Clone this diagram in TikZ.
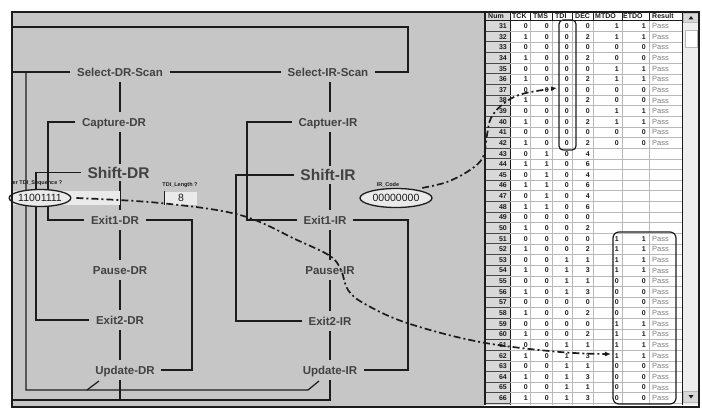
\documentclass[tikz,border=0pt]{standalone}
\usepackage{fontspec}
\setmainfont{Liberation Sans}
\usetikzlibrary{arrows.meta,shapes.geometric}
\definecolor{panel}{RGB}{198,198,198}
\definecolor{ink}{RGB}{28,28,28}
\definecolor{lbl}{RGB}{66,66,66}
\definecolor{field}{RGB}{234,234,234}
\definecolor{gridc}{RGB}{185,185,185}
\definecolor{btn}{RGB}{216,216,216}
\definecolor{passc}{RGB}{125,125,125}
\definecolor{track}{RGB}{238,238,238}
\begin{document}
\begin{tikzpicture}[x=1pt,y=-1pt,
  wire/.style={draw=ink, line width=1.25pt},
  state/.style={font=\fontsize{11.5}{12}\selectfont\bfseries, text=lbl, inner xsep=6.5pt, inner ysep=0pt, minimum height=20pt, text height=8.5pt, text depth=0pt},
  bigstate/.style={state, font=\fontsize{15.5}{16}\selectfont\bfseries, minimum height=17pt, text height=11.2pt},
  ddash/.style={draw=ink, line width=1.7pt, dash pattern=on 7pt off 3pt on 2pt off 3pt},
  tinylbl/.style={font=\fontsize{5.5}{6}\selectfont\bfseries, text=ink, inner sep=0pt},
  oval/.style={ellipse, draw=ink, line width=1.3pt, fill=field, inner sep=0pt, font=\fontsize{10.5}{11}\selectfont, text=ink},
  tcell/.style={font=\fontsize{7}{7}\selectfont\bfseries, text=ink, inner sep=0pt, text height=5pt, text depth=0pt, anchor=east},
  tpass/.style={font=\fontsize{7.5}{7.5}\selectfont, text=passc, inner sep=0pt, text height=5.2pt, text depth=0pt, anchor=west},
  hdr/.style={font=\fontsize{7}{7}\selectfont\bfseries, text=ink, inner sep=0pt, text height=5pt, text depth=0pt, anchor=west}
]
\useasboundingbox (0,0) rectangle (702,412);
\fill[white] (0,0) rectangle (702,412);
\fill[panel] (12,12) rectangle (484,407);
\fill[white] (484,12) rectangle (699,407);

% ---------- state labels ----------
\node[state] (sdr) at (120,72) {Select-DR-Scan};
\node[state] (cdr) at (114,122) {Capture-DR};
\node[bigstate] (shdr) at (118.5,172.5) {Shift-DR};
\node[state] (e1dr) at (115,220) {Exit1-DR};
\node[state] (pdr) at (120,270) {Pause-DR};
\node[state] (e2dr) at (120,320) {Exit2-DR};
\node[state] (udr) at (125,370) {Update-DR};
\node[state] (sir) at (328,72) {Select-IR-Scan};
\node[state] (cir) at (328,122) {Captuer-IR};
\node[bigstate] (shir) at (328,175) {Shift-IR};
\node[state] (e1ir) at (325,220) {Exit1-IR};
\node[state] (pir) at (330,270) {Pause-IR};
\node[state] (e2ir) at (330,321) {Exit2-IR};
\node[state] (uir) at (330,370) {Update-IR};

% ---------- named points ----------
\coordinate (colDR) at (120,0);
\coordinate (colIR) at (330,0);
\coordinate (frL) at (12,0);
\coordinate (topL) at (12,27);
\coordinate (topR) at (408,27);
\coordinate (botY) at (0,400);
\coordinate (lpA) at (26,72);
\coordinate (lpB) at (26,390);
\coordinate (lpC) at (308,390);
\coordinate (lpD) at (319,381);
\coordinate (brA) at (87,390);
\coordinate (brB) at (99,381);
\coordinate (x36) at (36,0);
\coordinate (x48) at (48,0);
\coordinate (x192) at (192,0);
\coordinate (x236) at (236,0);
\coordinate (x247) at (247,0);
\coordinate (x408) at (408,0);

% ---------- connectors ----------
\draw[wire] (sir.east) -| (topR) -- (topL);
\draw[wire] (sdr.west) -- (frL |- sdr.west);
\draw[wire] (sdr.east) -- (sir.west);
\draw[wire] (lpA) -- (lpB) -- (lpC) -- (lpD);
\draw[wire] (brA) -- (brB);
\foreach \a/\b in {sdr/cdr,cdr/shdr,shdr/e1dr,e1dr/pdr,pdr/e2dr,e2dr/udr}
  \draw[wire] (colDR |- \a.south) -- (colDR |- \b.north);
\foreach \a/\b in {sir/cir,cir/shir,shir/e1ir,e1ir/pir,pir/e2ir,e2ir/uir}
  \draw[wire] (colIR |- \a.south) -- (colIR |- \b.north);
\draw[wire] (colDR |- udr.south) -- (colDR |- botY);
\draw[wire] (colIR |- uir.south) -- (colIR |- botY) -- (frL |- botY);
\draw[wire] (cdr.west) -| (x48 |- e1dr.west) -- (e1dr.west);
\draw[wire] (shdr.west) -| (x36 |- e2dr.west) -- (e2dr.west);
\draw[wire] (e1dr.east) -| (x192 |- udr.east) -- (udr.east);
\draw[wire] (cir.west) -| (x247 |- e1ir.west) -- (e1ir.west);
\draw[wire] (shir.west) -| (x236 |- e2ir.west) -- (e2ir.west);
\draw[wire] (e1ir.east) -| (x408 |- uir.east) -- (uir.east);

% ---------- input fields ----------
\fill[field] (12,191) rectangle (120,205);
\node[oval, minimum width=56pt, minimum height=17pt] (dre) at (40,198) {11001111};
\node[tinylbl, anchor=west] (seql) at (12.5,183) {er TDI\_Sequence ?};
\node[tinylbl] (lenl) at (180,185) {TDI\_Length ?};
\node[fill=field, minimum width=32pt, minimum height=13pt, inner sep=0pt, font=\fontsize{10.5}{11}\selectfont, text=ink] (len) at (181,198) {8};
\draw[ink, line width=1.2pt] (len.north west) -- (len.south west);
\node[tinylbl] (irl) at (388,185) {IR\_Code};
\node[oval, minimum width=72pt, minimum height=19pt] (ire) at (396,198) {00000000};

% ---------- table ----------
\fill[btn] (484,12) rectangle (510,405);
\foreach \x in {530,552,572,593,622,649} \draw[gridc, line width=0.7pt] (\x,20.7) -- (\x,405);
\foreach \x in {510,530,552,572,593,622,649,682} \draw[ink, line width=0.8pt] (\x,12) -- (\x,20.7);
\draw[ink, line width=1pt] (510,12) -- (510,405);
\foreach \k in {0,...,35} {
  \pgfmathsetmacro\yb{26+\k*10.63+5.315}
  \draw[gridc, line width=0.6pt] (510,\yb) -- (682,\yb);
  \draw[ink!80, line width=0.9pt] (484,\yb) -- (510,\yb);
}
\draw[ink, line width=0.9pt] (484,20.7) -- (682,20.7);
\draw[ink, line width=2pt] (485,12) -- (485,405);
\node[hdr] (hnum) at (488,16.5) {Num};
\node[hdr] (htck) at (512,16.5) {TCK};
\node[hdr] (htms) at (533,16.5) {TMS};
\node[hdr] (htdi) at (555,16.5) {TDI};
\node[hdr] (hdec) at (575,16.5) {DEC};
\node[hdr] (hmtdo) at (595,16.5) {MTDO};
\node[hdr] (hetdo) at (623,16.5) {ETDO};
\node[hdr] (hres) at (652,16.5) {Result};

\foreach \n/\a/\b/\c/\d/\e/\f in {31/0/0/0/0/1/1,32/1/0/0/2/1/1,33/0/0/0/0/0/0,34/1/0/0/2/0/0,35/0/0/0/0/1/1,36/1/0/0/2/1/1,37/0/0/0/0/0/0,38/1/0/0/2/0/0,39/0/0/0/0/1/1,40/1/0/0/2/1/1,41/0/0/0/0/0/0,42/1/0/0/2/0/0,51/0/0/0/0/1/1,52/1/0/0/2/1/1,53/0/0/1/1/1/1,54/1/0/1/3/1/1,55/0/0/1/1/0/0,56/1/0/1/3/0/0,57/0/0/0/0/0/0,58/1/0/0/2/0/0,59/0/0/0/0/1/1,60/1/0/0/2/1/1,61/0/0/1/1/1/1,62/1/0/1/3/1/1,63/0/0/1/1/0/0,64/1/0/1/3/0/0,65/0/0/1/1/0/0,66/1/0/1/3/0/0} {
  \pgfmathsetmacro\yy{26+(\n-31)*10.63}
  \node[tcell] (num\n) at (507,\yy) {\n};
  \node[tcell] (tck\n) at (528,\yy) {\a};
  \node[tcell] (tms\n) at (549,\yy) {\b};
  \node[tcell] (tdi\n) at (569,\yy) {\c};
  \node[tcell] (dec\n) at (590,\yy) {\d};
  \node[tcell] (mtdo\n) at (619,\yy) {\e};
  \node[tcell] (etdo\n) at (646,\yy) {\f};
  \node[tpass] (res\n) at (652,\yy) {Pass};
}
\foreach \n/\a/\b/\c/\d in {43/0/1/0/4,44/1/1/0/6,45/0/1/0/4,46/1/1/0/6,47/0/1/0/4,48/1/1/0/6,49/0/0/0/0,50/1/0/0/2} {
  \pgfmathsetmacro\yy{26+(\n-31)*10.63}
  \node[tcell] (num\n) at (507,\yy) {\n};
  \node[tcell] (tck\n) at (528,\yy) {\a};
  \node[tcell] (tms\n) at (549,\yy) {\b};
  \node[tcell] (tdi\n) at (569,\yy) {\c};
  \node[tcell] (dec\n) at (590,\yy) {\d};
}

% scrollbar
\fill[track] (682,12) rectangle (699,405);
\draw[ink, line width=0.8pt] (682,12) -- (682,405);
\draw[gridc, line width=0.6pt, fill=btn] (683,13) rectangle (698,22);
\fill[ink] (688.5,19.5) -- (693.5,19.5) -- (691,16) -- cycle;
\draw[gridc, line width=0.8pt, fill=white] (685,30) rectangle (697,47);
\draw[gridc, line width=0.6pt, fill=btn] (683,391) rectangle (698,402);
\fill[ink] (688.5,395) -- (693.5,395) -- (691,398.5) -- cycle;

% highlight boxes
\draw[ink, line width=1.2pt, rounded corners=4pt] (559,20) rectangle (576,150);
\draw[ink, line width=1.2pt, rounded corners=6pt] (613,232) rectangle (676,404);

% ---------- dash-dot pointers ----------
\coordinate (drS) at ([xshift=5pt]dre.east);
\coordinate (drE) at (611,354);
\draw[ddash, -{Latex[length=6pt,width=5pt]}] plot[smooth, tension=0.6] coordinates {(drS) (160,203) (240,215) (297,240) (330,256) (341,270) (348,290) (365,304) (407,323) (480,342) (560,352) (drE)};
\coordinate (irS) at ([shift={(4pt,2pt)}]ire.20);
\coordinate (irE) at (557,88);
\draw[ddash, -{Latex[length=6pt,width=5pt]}] plot[smooth, tension=0.6] coordinates {(irS) (447,182) (470,170) (483,157) (487,135) (491,118) (503,104) (522,94) (irE)};

% frame
\draw[ink, line width=2.2pt] (12,12) rectangle (699,407);
\end{tikzpicture}
\end{document}
